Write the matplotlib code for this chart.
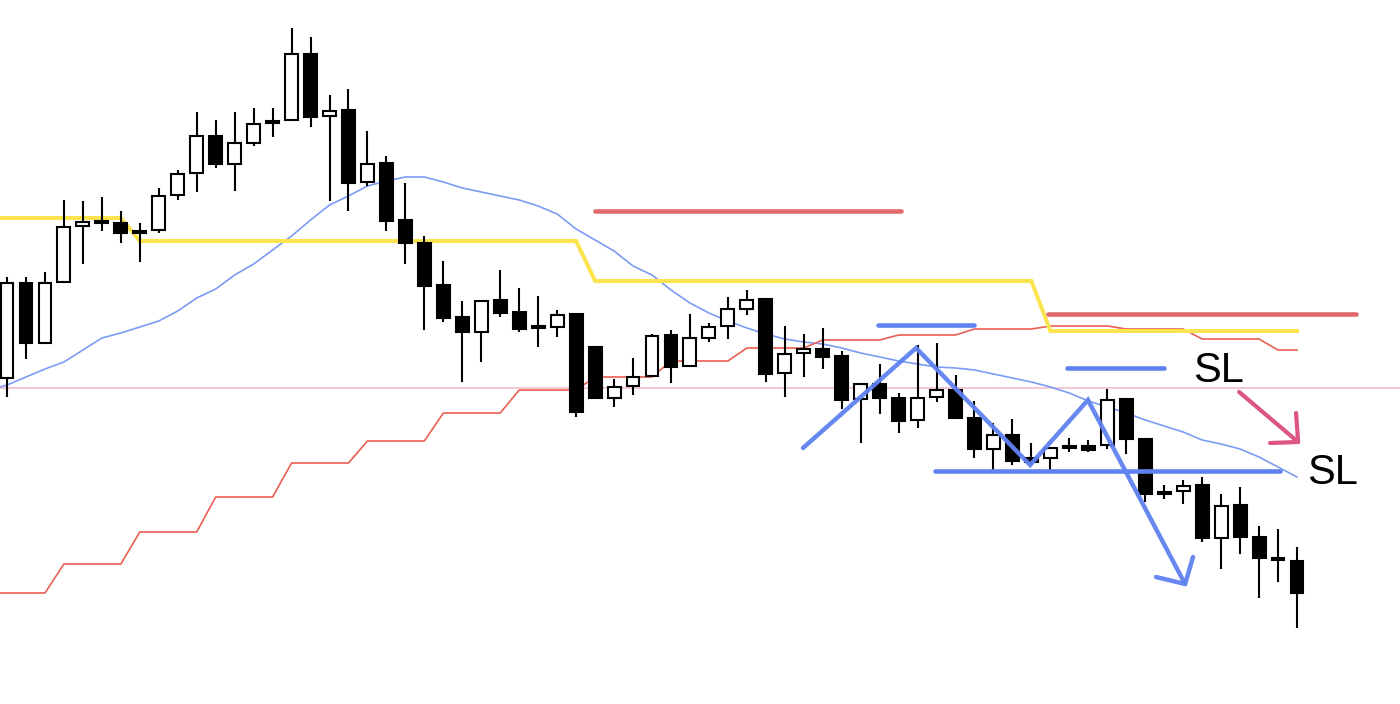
import matplotlib.pyplot as plt
from matplotlib.patches import Rectangle
import numpy as np

# candles (open, high, low, close)
opens = [146.22, 147.17, 146.57, 147.18, 147.74, 147.78, 147.77, 147.69, 147.70, 148.05,
         148.27, 148.64, 148.36, 148.57, 148.78, 148.80, 149.46, 148.84, 148.90, 148.18,
         148.37, 147.80, 147.57, 147.15, 146.83, 146.68, 147.00, 146.88, 146.73, 146.73,
         146.86, 146.53, 146.02, 146.14, 146.24, 146.65, 146.34, 146.62, 146.74, 146.91,
         147.01, 146.27, 146.47, 146.51, 146.44, 146.01, 146.16, 146.02, 145.80, 146.03,
         146.10, 145.82, 145.51, 145.65, 145.42, 145.42, 145.53, 145.54, 145.55, 146.01,
         145.61, 145.07, 145.09, 145.15, 144.62, 144.95, 144.63, 144.41, 144.39]
highs = [147.23, 147.23, 147.28, 148.00, 147.99, 148.03, 147.89, 147.77, 148.12, 148.30,
         148.88, 148.80, 148.88, 148.92, 148.92, 149.72, 149.63, 149.05, 149.11, 148.69,
         148.44, 148.17, 147.64, 147.39, 146.99, 146.99, 147.30, 147.12, 147.04, 146.90,
         146.86, 146.53, 146.21, 146.42, 146.66, 146.70, 146.86, 146.77, 147.03, 147.10,
         147.01, 146.74, 146.66, 146.72, 146.49, 146.16, 146.36, 146.07, 146.55, 146.57,
         146.25, 145.99, 145.77, 145.81, 145.57, 145.52, 145.62, 145.60, 146.11, 146.01,
         145.61, 145.15, 145.20, 145.23, 145.06, 145.13, 144.74, 144.71, 144.53]
lows = [146.03, 146.41, 146.56, 147.17, 147.36, 147.69, 147.57, 147.38, 147.67, 148.00,
        148.08, 148.32, 148.09, 148.54, 148.63, 148.80, 148.73, 147.99, 147.89, 148.14,
        147.69, 147.36, 146.70, 146.78, 146.18, 146.38, 146.83, 146.68, 146.53, 146.63,
        145.83, 146.02, 145.93, 146.05, 146.23, 146.17, 146.34, 146.58, 146.61, 146.85,
        146.18, 146.03, 146.23, 146.31, 145.91, 145.57, 145.86, 145.67, 145.72, 145.98,
        145.82, 145.42, 145.28, 145.35, 145.34, 145.29, 145.48, 145.48, 145.51, 145.46,
        144.98, 145.01, 144.96, 144.58, 144.31, 144.46, 144.02, 144.18, 143.72]
closes = [147.17, 146.57, 147.17, 147.73, 147.78, 147.78, 147.67, 147.67, 148.04, 148.26,
          148.64, 148.36, 148.57, 148.76, 148.78, 149.46, 148.83, 148.89, 148.17, 148.36,
          147.79, 147.57, 147.14, 146.82, 146.68, 146.99, 146.87, 146.71, 146.73, 146.85,
          145.88, 146.02, 146.13, 146.23, 146.64, 146.33, 146.62, 146.73, 146.91, 147.00,
          146.26, 146.46, 146.51, 146.43, 146.00, 146.16, 146.02, 145.79, 146.02, 146.10,
          145.82, 145.51, 145.65, 145.39, 145.38, 145.52, 145.53, 145.50, 146.00, 145.61,
          145.06, 145.07, 145.14, 144.62, 144.94, 144.63, 144.42, 144.41, 144.07]

# moving average (blue), step lines (red thin, yellow)
ma = [146.15, 146.23, 146.31, 146.38, 146.50, 146.62, 146.67, 146.73, 146.79, 146.89,
      147.02, 147.11, 147.25, 147.36, 147.50, 147.64, 147.80, 147.95, 148.04, 148.14,
      148.19, 148.23, 148.23, 148.18, 148.12, 148.08, 148.04, 148.00, 147.94, 147.86,
      147.71, 147.60, 147.49, 147.34, 147.25, 147.10, 146.97, 146.87, 146.79, 146.72,
      146.66, 146.61, 146.58, 146.56, 146.52, 146.47, 146.43, 146.39, 146.36, 146.33,
      146.32, 146.30, 146.26, 146.22, 146.18, 146.13, 146.07, 145.99, 145.93, 145.87,
      145.80, 145.74, 145.68, 145.60, 145.56, 145.51, 145.43, 145.33, 145.23]
red_steps = [144.07, 144.36, 144.68, 145.03, 145.37, 145.59, 145.87, 146.10, 146.23,
             146.39, 146.52, 146.60, 146.65, 146.71, 146.74, 146.71, 146.61, 146.50]
red_len = [3, 4, 4, 4, 4, 4, 4, 4, 4, 4, 4, 4, 4, 4, 4, 4, 4, 2]
yellow_steps = [147.82, 147.59, 147.19, 146.69]
yellow_len = [7, 24, 24, 14]
pink_level = 146.12

# hand drawn marks: (x0, x1, price)
red_bars = [(31.0, 47.1, 147.89), (54.9, 71.1, 146.86)]
blue_bars = [(45.9, 51.0, 146.75), (55.9, 61.0, 146.32), (48.9, 67.1, 145.29)]
zig_x = [41.96, 47.92, 53.93, 56.98, 62.1]
zig_y = [145.52, 146.52, 145.35, 146.00, 144.16]
zig_head_x = [60.57, 62.1, 62.52]
zig_head_y = [144.23, 144.16, 144.43]
pink_arrow_x = [64.95, 68.06]
pink_arrow_y = [146.08, 145.58]
pink_head_x = [66.58, 68.06, 67.95]
pink_head_y = [145.57, 145.58, 145.87]
sl_labels = [(62.5, 146.18), (68.55, 145.16)]

n = len(opens)
xs = np.arange(n)
red = np.repeat(red_steps, red_len)
yellow = np.repeat(yellow_steps, yellow_len)

fig = plt.figure(figsize=(14, 7.04), dpi=100)
ax = fig.add_axes([0, 0, 1, 1])
xl = -0.37
ax.set_xlim(xl, 73.43)
ax.set_ylim(142.96, 150.0)
ax.axis('off')

ax.axhline(pink_level, color='#f2bfcc', lw=1.2, zorder=1)
ax.plot(np.r_[xl, xs], np.r_[ma[0] - 0.02, ma], color='#7b9cf5', lw=1.2, zorder=2)
ax.plot(np.r_[xl, xs], np.r_[red[0], red], color='#ea5f52', lw=1.2, zorder=2)
ax.plot(np.r_[xl, xs], np.r_[yellow[0], yellow], color='#fbe450', lw=2.9,
        solid_joinstyle='miter', zorder=2)

w = 0.68
for i in range(n):
    o, h, l, c = opens[i], highs[i], lows[i], closes[i]
    ax.plot([i, i], [l, h], color='black', lw=1.5, zorder=3, solid_capstyle='butt')
    lo = min(o, c)
    hgt = abs(c - o)
    if hgt < 0.02:
        col = 'black'
        lo = (o + c) / 2 - 0.013
        hgt = 0.026
    else:
        col = 'white' if c > o else 'black'
    ax.add_patch(Rectangle((i - w / 2, lo), w, hgt, facecolor=col,
                           edgecolor='black', lw=1.5, zorder=4))

for x0, x1, y in red_bars:
    ax.plot([x0, x1], [y, y], color='#e06a6a', lw=3.3, solid_capstyle='round', zorder=5)
for x0, x1, y in blue_bars:
    ax.plot([x0, x1], [y, y], color='#5f82f0', lw=3.3, solid_capstyle='round', zorder=5)

ax.plot(zig_x, zig_y, color='#5f82f0', lw=3.2, alpha=0.95, solid_capstyle='round',
        solid_joinstyle='miter', zorder=6)
ax.plot(zig_head_x, zig_head_y, color='#5f82f0', lw=3.2, alpha=0.95,
        solid_capstyle='round', zorder=6)
ax.plot(pink_arrow_x, pink_arrow_y, color='#dc5585', lw=3.0, solid_capstyle='round', zorder=6)
ax.plot(pink_head_x, pink_head_y, color='#dc5585', lw=3.0, solid_capstyle='round', zorder=6)

for x, y in sl_labels:
    ax.text(x, y, 'SL', fontsize=30, family='Liberation Sans', color='black',
            ha='left', va='baseline', zorder=7)

fig.savefig('out.png', dpi=100, facecolor='white')
